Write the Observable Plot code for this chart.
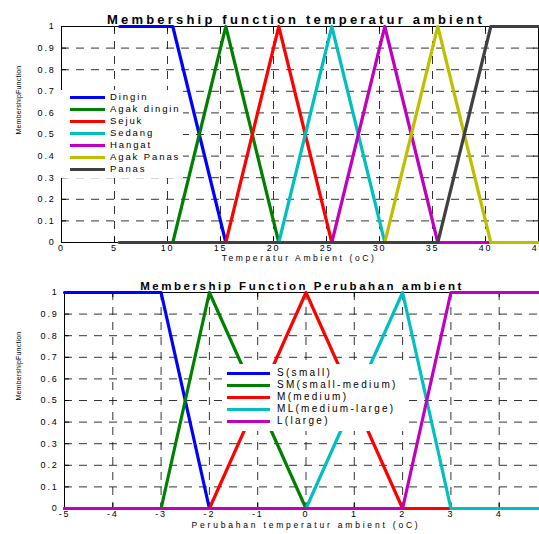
<!DOCTYPE html>
<html><head><meta charset="utf-8">
<script src="https://cdn.jsdelivr.net/npm/d3@7"></script>
<script src="https://cdn.jsdelivr.net/npm/@observablehq/plot@0.6"></script>
<style>
html,body{margin:0;padding:0;overflow:hidden;background:#fff;}
#wrap{position:relative;width:539px;height:534px;overflow:hidden;}
#wrap svg{display:block;}
.legend{position:absolute;background:#fff;font-family:"Liberation Sans",Arial,sans-serif;color:#000;}
.legend .row{position:absolute;left:0;height:12px;}
.legend .sw{position:absolute;height:3px;}
.legend .lb{position:absolute;line-height:12px;white-space:nowrap;}
</style></head><body><div id="wrap"></div>
<script>
// ---------- Chart 1: temperatur ambient ----------
const tempCategories = ["Dingin", "Agak dingin", "Sejuk", "Sedang", "Hangat", "Agak Panas", "Panas"];
const tempColors = ["#0000ff", "#008000", "#ff0000", "#00bfbf", "#bf00bf", "#bfbf00", "#404040"];
const tempX = [
  [5.5, 10.5, 15.5, 45],
  [5.5, 10.5, 15.5, 20.5, 45],
  [5.5, 15.5, 20.5, 25.5, 45],
  [5.5, 20.5, 25.5, 30.5, 45],
  [5.5, 25.5, 30.5, 35.5, 45],
  [5.5, 30.5, 35.5, 40.5, 45],
  [5.5, 35.5, 40.5, 45]
];
const tempY = [
  [1, 1, 0, 0],
  [0, 0, 1, 0, 0],
  [0, 0, 1, 0, 0],
  [0, 0, 1, 0, 0],
  [0, 0, 1, 0, 0],
  [0, 0, 1, 0, 0],
  [0, 0, 1, 1]
];
const tempXTicks = [0, 5, 10, 15, 20, 25, 30, 35, 40, 45];
const tempYTicks = [0, 0.1, 0.2, 0.3, 0.4, 0.5, 0.6, 0.7, 0.8, 0.9, 1];
const tempTitle = "Membership function temperatur ambient";
const tempXLabel = "Temperatur Ambient (oC)";

// ---------- Chart 2: perubahan ambient ----------
const changeCategories = ["S(small)", "SM(small-medium)", "M(medium)", "ML(medium-large)", "L(large)"];
const changeColors = ["#0000ff", "#008000", "#ff0000", "#00bfbf", "#bf00bf"];
const changeX = [
  [-5, -3, -2, 5],
  [-5, -3, -2, 0, 5],
  [-5, -2, 0, 2, 5],
  [-5, 0, 2, 3, 5],
  [-5, 2, 3, 5]
];
const changeY = [
  [1, 1, 0, 0],
  [0, 0, 1, 0, 0],
  [0, 0, 1, 0, 0],
  [0, 0, 1, 0, 0],
  [0, 0, 1, 1]
];
const changeXTicks = [-5, -4, -3, -2, -1, 0, 1, 2, 3, 4, 5];
const changeYTicks = [0, 0.1, 0.2, 0.3, 0.4, 0.5, 0.6, 0.7, 0.8, 0.9, 1];
const changeTitle = "Membership Function Perubahan ambient";
const changeXLabel = "Perubahan temperatur ambient (oC)";

const yLabelText = "MembershipFunction";
const FONT = "Liberation Sans, Arial, sans-serif";

function makeChart(o) {
  const fw = o.width - o.mL - o.mR, fh = o.height - o.mT - o.mB;
  const xd = o.xTicks, yd = o.yTicks;
  const innerX = xd.filter(v => v > o.xDomain[0] && v < o.xDomain[1]);
  const innerY = yd.filter(v => v > 0 && v < 1);
  const gridStyle = {stroke: "#111", strokeWidth: 1, strokeDasharray: "8,7", strokeOpacity: 0.85};
  const marks = [
    Plot.ruleX(innerX, {x: d => d, ...gridStyle}),
    Plot.ruleY(innerY, {y: d => d, ...gridStyle}),
    Plot.ruleY(yd, {y: d => d, stroke: "#000", insetRight: fw - 5}),
    Plot.ruleY(yd, {y: d => d, stroke: "#000", insetLeft: fw - 5}),
    Plot.ruleX(xd, {x: d => d, stroke: "#000", insetTop: fh - 5}),
    Plot.ruleX(xd, {x: d => d, stroke: "#000", insetBottom: fh - 5}),
    Plot.frame({stroke: "#000", strokeWidth: 1})
  ];
  o.xs.forEach((xs, i) => {
    const pts = xs.map((x, j) => ({x, y: o.ys[i][j], s: o.cats[i]}));
    marks.push(Plot.line(pts, {x: "x", y: "y", stroke: o.colors[i], strokeWidth: 3.2}));
  });
  marks.push(Plot.text([o.title], {text: d => d, frameAnchor: "top", dy: o.titleDy, dx: o.titleDx, fontSize: o.titleSize, fontWeight: "bold", fill: "#000"}));
  marks.push(Plot.text([o.xLabel], {text: d => d, frameAnchor: "bottom", dy: o.xLabelDy, dx: o.xLabelDx, fontSize: 8.5, fill: "#000"}));
  marks.push(Plot.text([yLabelText], {text: d => d, frameAnchor: "left", dx: o.yLabelDx, rotate: -90, fontSize: 7, fill: "#000"}));
  const svg = Plot.plot({
    width: o.width, height: o.height,
    marginLeft: o.mL, marginRight: o.mR, marginTop: o.mT, marginBottom: o.mB,
    style: {fontFamily: FONT, fontSize: "9px", background: "transparent", maxWidth: "none", overflow: "hidden", letterSpacing: "1.8px", color: "#000"},
    x: {domain: o.xDomain, ticks: xd, tickSize: 0, tickPadding: 2, label: null, tickFormat: d => String(d)},
    y: {domain: [0, 1], ticks: yd, tickSize: 0, tickPadding: 6, label: null, tickFormat: d => String(d)},
    marks
  });
  d3.select(svg).selectAll("text").each(function() {
    const t = this.textContent;
    if (t === o.title) d3.select(this).style("letter-spacing", o.titleLS);
    else if (t === o.xLabel) d3.select(this).style("letter-spacing", o.xLabelLS);
    else if (t === yLabelText) d3.select(this).style("letter-spacing", "0.2px");
  });
  return svg;
}

function makeLegend(cats, colors, box) {
  const div = document.createElement("div");
  div.className = "legend";
  Object.assign(div.style, {left: box.left + "px", top: box.top + "px", width: box.w + "px", height: box.h + "px", fontSize: box.fs + "px", letterSpacing: box.ls + "px"});
  cats.forEach((c, i) => {
    const row = document.createElement("div");
    row.className = "row";
    row.style.top = (box.first + box.step * i - 6) + "px";
    row.style.width = box.w + "px";
    const sw = document.createElement("div");
    sw.className = "sw";
    Object.assign(sw.style, {left: box.swL + "px", width: box.swW + "px", top: "5px", background: colors[i]});
    const lb = document.createElement("div");
    lb.className = "lb";
    lb.style.left = box.txL + "px";
    lb.style.top = "0px";
    lb.textContent = c;
    row.appendChild(sw); row.appendChild(lb);
    div.appendChild(row);
  });
  return div;
}

const wrap = document.getElementById("wrap");
wrap.appendChild(makeChart({
  cats: tempCategories, colors: tempColors, xs: tempX, ys: tempY,
  xDomain: [0, 45], xTicks: tempXTicks, yTicks: tempYTicks,
  width: 539, height: 265, mL: 61, mR: 1, mT: 26, mB: 23,
  title: tempTitle, titleSize: 13, titleDx: -4, titleDy: -11.5, titleLS: "3.2px",
  xLabel: tempXLabel, xLabelDy: 18, xLabelDx: -1, xLabelLS: "2.6px",
  yLabelDx: -42.5
}));
wrap.appendChild(makeChart({
  cats: changeCategories, colors: changeColors, xs: changeX, ys: changeY,
  xDomain: [-5, 5], xTicks: changeXTicks, yTicks: changeYTicks,
  width: 548, height: 269, mL: 64, mR: 1, mT: 27, mB: 26,
  title: changeTitle, titleSize: 11.5, titleDx: -4, titleDy: -11, titleLS: "2.55px",
  xLabel: changeXLabel, xLabelDy: 19, xLabelDx: 0, xLabelLS: "2.8px",
  yLabelDx: -45.5
}));
wrap.appendChild(makeLegend(tempCategories, tempColors, {left: 61, top: 90, w: 122, h: 88, first: 7, step: 12, swL: 9, swW: 35, txL: 49, fs: 9.5, ls: 1.9}));
wrap.appendChild(makeLegend(changeCategories, changeColors, {left: 222, top: 364, w: 183, h: 67, first: 9, step: 12, swL: 5, swW: 43, txL: 55, fs: 10, ls: 2.3}));
</script></body></html>
